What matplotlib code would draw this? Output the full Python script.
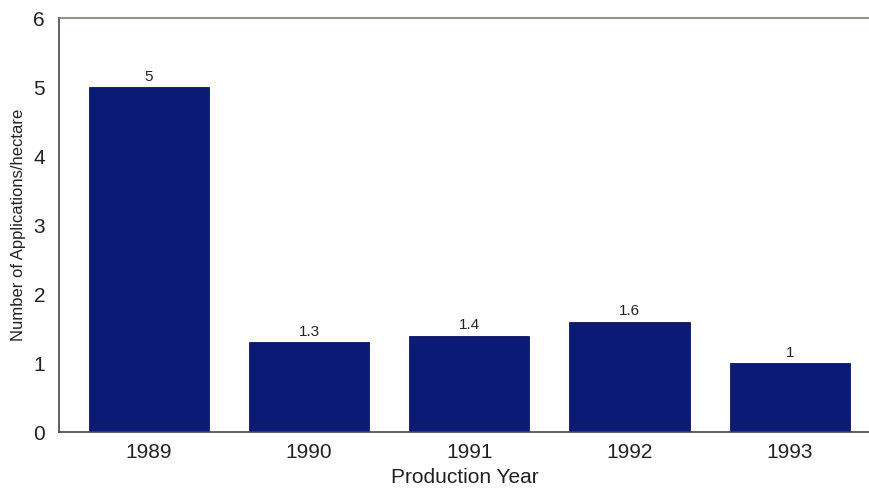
import matplotlib

matplotlib.use("Agg")
import matplotlib.pyplot as plt

years = ["1989", "1990", "1991", "1992", "1993"]
applications = [5, 1.3, 1.4, 1.6, 1]
value_labels = ["5", "1.3", "1.4", "1.6", "1"]

plt.rcParams["font.family"] = ["Liberation Sans", "DejaVu Sans"]

fig = plt.figure(figsize=(8.7, 4.91), dpi=100)
ax = fig.add_axes([0.0678, 0.120, 0.9322, 0.843])

x = range(len(years))
bars = ax.bar(x, applications, width=0.75, color="#0b1a74", edgecolor="#0a1460", linewidth=0.6)
for rect, lab in zip(bars, value_labels):
    ax.text(rect.get_x() + rect.get_width() / 2, rect.get_height() + 0.05, lab,
            ha="center", va="bottom", fontsize=11, color="#222222")

ax.set_xlim(-0.56, 4.5)
ax.set_ylim(0, 6)
ax.set_xticks(list(x))
ax.set_xticklabels(years)
ax.set_yticks(range(7))
ax.tick_params(length=0, labelsize=15, colors="#222222")
ax.tick_params(axis="x", pad=8)
ax.tick_params(axis="y", pad=10)
ax.set_xlabel("Production Year", fontsize=15, color="#222222", labelpad=4)
ax.set_ylabel("Number of Applications/hectare", fontsize=12, color="#222222", labelpad=5)

ax.spines["right"].set_visible(False)
ax.spines["top"].set_color("#6f7f70")
ax.spines["left"].set_color("#444444")
ax.spines["bottom"].set_color("#444444")
for s in ax.spines.values():
    s.set_linewidth(1.2)

fig.savefig("out.png", dpi=100)
plt.close(fig)
